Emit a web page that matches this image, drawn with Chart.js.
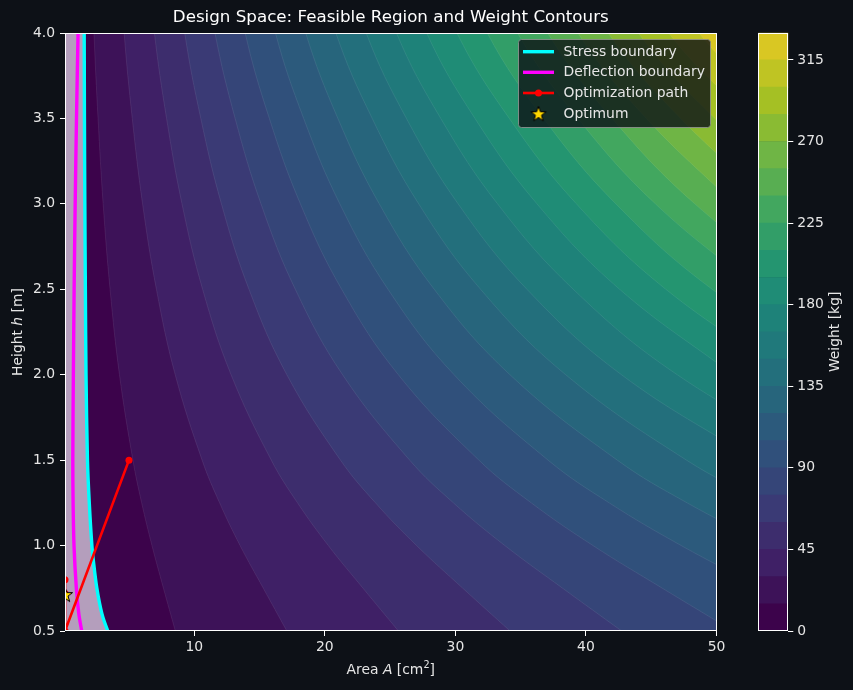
<!DOCTYPE html>
<html>
<head>
<meta charset="utf-8">
<script src="https://cdn.jsdelivr.net/npm/chart.js@4.4.1/dist/chart.umd.min.js"></script>
<style>
  html, body { margin: 0; padding: 0; background: #0d1117; }
  #wrap { position: relative; width: 853px; height: 690px; }
  #main { position: absolute; left: 0; top: 0; }
  #cbar { position: absolute; left: 740px; top: 0; }
</style>
</head>
<body>
<div id="wrap">
  <canvas id="main" width="853" height="690"></canvas>
  <canvas id="cbar" width="113" height="690"></canvas>
</div>
<script>
// values
const areaMin = 0.1
const areaMax = 50
const heightMin = 0.5
const heightMax = 4
const areaTicks = [10, 20, 30, 40, 50]
const heightTicks = [0.5, 1.0, 1.5, 2.0, 2.5, 3.0, 3.5, 4.0]

// weight contour levels [kg] and where each level line sits (area A at each height row)
const heightRows = [5, 4, 3.5, 3, 2.5, 2, 1.5, 1.25, 1, 0.75, 0.5]
const weightLevels = [15, 30, 45, 60, 75, 90, 105, 120, 135, 150, 165, 180, 195, 210, 225, 240, 255, 270, 285, 300, 315]
const contourAreas = [
    [1.87, 2.32, 2.63, 3.02, 3.55, 4.27, 5.30, 5.97, 6.76, 7.64, 8.55],
    [3.75, 4.63, 5.25, 6.04, 7.10, 8.54, 10.60, 11.94, 13.51, 15.29, 17.09],
    [5.62, 6.95, 7.88, 9.06, 10.64, 12.82, 15.90, 17.91, 20.27, 22.93, 25.64],
    [7.50, 9.27, 10.50, 12.08, 14.19, 17.09, 21.20, 23.88, 27.03, 30.57, 34.19],
    [9.37, 11.59, 13.13, 15.11, 17.74, 21.36, 26.50, 29.85, 33.79, 38.22, 42.74],
    [11.24, 13.90, 15.75, 18.13, 21.29, 25.63, 31.80, 35.81, 40.54, 45.86, 51.28],
    [13.12, 16.22, 18.38, 21.15, 24.84, 29.90, 37.10, 41.78, 47.30, 53.50],
    [14.99, 18.54, 21.00, 24.17, 28.38, 34.18, 42.40, 47.75, 54.06],
    [16.87, 20.85, 23.63, 27.19, 31.93, 38.45, 47.70, 53.72],
    [18.74, 23.17, 26.25, 30.21, 35.48, 42.72, 53.00],
    [20.61, 25.49, 28.88, 33.23, 39.03, 46.99, 58.30],
    [22.49, 27.80, 31.50, 36.25, 42.58, 51.26],
    [24.36, 30.12, 34.13, 39.27, 46.12, 55.54],
    [26.24, 32.44, 36.75, 42.29, 49.67, 59.81],
    [28.11, 34.76, 39.38, 45.32, 53.22],
    [29.98, 37.07, 42.00, 48.34, 56.77],
    [31.86, 39.39, 44.63, 51.36],
    [33.73, 41.71, 47.25, 54.38],
    [35.61, 44.02, 49.88, 57.40],
    [37.48, 46.34, 52.50],
    [39.35, 48.66, 55.13]
]
const colorbarBands = [0, 15, 30, 45, 60, 75, 90, 105, 120, 135, 150, 165, 180, 195, 210, 225, 240, 255, 270, 285, 300, 315, 330]
const colorbarTicks = [0, 45, 90, 135, 180, 225, 270, 315]

// constraint boundaries
const stressH = [4.2, 4, 3.5, 3, 2.5, 2, 1.5, 1.25, 1, 0.9, 0.75, 0.6, 0.5, 0.45]
const stressA = [1.56, 1.57, 1.59, 1.62, 1.66, 1.71, 1.82, 1.96, 2.16, 2.29, 2.54, 2.93, 3.38, 3.70]
const deflectionH = [4.2, 4, 3.5, 3, 2.5, 2, 1.5, 1.25, 1, 0.75, 0.6, 0.5, 0.45]
const deflectionA = [1.15, 1.10, 0.98, 0.88, 0.80, 0.74, 0.70, 0.72, 0.79, 0.97, 1.16, 1.38, 1.50]

// optimizer
const pathA = [5.0, 0.1, 0.1, 0.1]
const pathH = [1.5, 0.5, 0.8, 0.72]
const optimumA = [0.1]
const optimumH = [0.71]

// ---- styling helpers ----
const BG = [13, 17, 23]
const TEXT = '#e6e6e6'
const FONT = 'DejaVu Sans'
Chart.defaults.font.family = FONT

const viridis = [[68,1,84],[72,36,117],[65,68,135],[53,95,141],[42,120,142],[33,145,140],[34,168,132],[68,191,112],[122,209,81],[189,223,38],[253,231,37]]
function viridisAt(t) {
    const p = t * 10
    const i = Math.min(9, Math.floor(p))
    const f = p - i
    return viridis[i].map((c, j) => c + (viridis[i + 1][j] - c) * f)
}
const nBands = colorbarBands.length - 1
function bandColor(i) {
    // contourf drawn with alpha 0.85 over the dark face
    const c = viridisAt(i / (nBands - 1))
    return 'rgb(' + c.map((v, j) => Math.round(0.85 * v + 0.15 * BG[j])).join(',') + ')'
}

function makeStar(r) {
    const s = Math.ceil(r * 2 + 4)
    const c = document.createElement('canvas')
    c.width = s
    c.height = s
    const g = c.getContext('2d')
    g.translate(s / 2, s / 2)
    g.beginPath()
    for (let i = 0; i < 10; i++) {
        const rad = i % 2 ? r * 0.4 : r
        const a = -Math.PI / 2 + i * Math.PI / 5
        g.lineTo(rad * Math.cos(a), rad * Math.sin(a))
    }
    g.closePath()
    g.fillStyle = '#ffd700'
    g.fill()
    g.lineWidth = 1
    g.strokeStyle = '#000'
    g.stroke()
    return c
}
const starImg = makeStar(8)

const toPoints = (xs, ys) => xs.map((x, i) => ({ x: x, y: ys[i] }))

// ---- datasets ----
const contourSets = weightLevels.map((lvl, k) => {
    const pts = [{ x: areaMin, y: heightRows[0] }].concat(
        contourAreas[k].map((a, j) => ({ x: a, y: heightRows[j] })))
    return {
        label: 'W < ' + lvl,
        data: pts,
        fill: 'start',
        backgroundColor: bandColor(k),
        borderColor: 'rgba(255,255,255,0.10)',
        borderWidth: 0.8,
        pointRadius: 0,
        tension: 0.4
    }
})

const stressPts = toPoints(stressA, stressH)
const datasets = [
    {
        label: 'Optimum',
        data: toPoints(optimumA, optimumH),
        showLine: false,
        pointStyle: starImg,
        pointRadius: 9,
        clip: 0
    },
    {
        label: 'Optimization path',
        data: toPoints(pathA, pathH),
        borderColor: '#ff0000',
        backgroundColor: '#ff0000',
        borderWidth: 2.6,
        pointRadius: 3.5,
        pointBorderWidth: 0,
        tension: 0,
        clip: 0
    },
    {
        label: 'Stress boundary',
        data: stressPts,
        borderColor: '#00ffff',
        borderWidth: 3.4,
        pointRadius: 0,
        tension: 0.3
    },
    {
        label: 'Deflection boundary',
        data: toPoints(deflectionA, deflectionH),
        borderColor: '#ff00ff',
        borderWidth: 3.4,
        pointRadius: 0,
        tension: 0.3
    },
    {
        label: 'infeasible',
        data: [{ x: areaMin, y: stressH[0] }].concat(stressPts),
        fill: 'start',
        backgroundColor: 'rgb(180,158,188)',
        borderWidth: 0,
        pointRadius: 0,
        tension: 0.3
    }
].concat(contourSets)

const legendItems = [
    { text: 'Stress boundary', color: '#00ffff', kind: 'line' },
    { text: 'Deflection boundary', color: '#ff00ff', kind: 'line' },
    { text: 'Optimization path', color: '#ff0000', kind: 'marker' },
    { text: 'Optimum', kind: 'star' }
]

const mainDecor = {
    id: 'mainDecor',
    beforeDatasetsDraw(chart) {
        const a = chart.chartArea
        const ctx = chart.ctx
        ctx.save()
        ctx.fillStyle = bandColor(nBands - 1)
        ctx.fillRect(a.left, a.top, a.right - a.left, a.bottom - a.top)
        ctx.restore()
    },
    afterDraw(chart) {
        const a = chart.chartArea
        const ctx = chart.ctx
        ctx.save()
        // spines
        ctx.strokeStyle = '#ffffff'
        ctx.lineWidth = 1
        ctx.strokeRect(Math.round(a.left) + 0.5, Math.round(a.top) + 0.5,
            Math.round(a.right - a.left) - 1, Math.round(a.bottom - a.top) - 1)

        // title
        ctx.fillStyle = '#ffffff'
        ctx.textAlign = 'center'
        ctx.textBaseline = 'middle'
        ctx.font = '16.7px "' + FONT + '"'
        ctx.fillText('Design Space: Feasible Region and Weight Contours', (a.left + a.right) / 2, 18)

        // axis labels with italic symbols
        ctx.fillStyle = TEXT
        drawMixed(ctx, [['Area ', ''], ['A', 'italic '], [' [cm', ''], ['2', 'sup'], [']', '']],
            (a.left + a.right) / 2, 670, 0)
        drawMixed(ctx, [['Height ', ''], ['h', 'italic '], [' [m]', '']],
            18, (a.top + a.bottom) / 2, -Math.PI / 2)

        // legend
        const bx = 518.5, by = 39.5, bw = 192, bh = 88
        ctx.beginPath()
        ctx.roundRect(bx, by, bw, bh, 3)
        ctx.fillStyle = 'rgba(13,17,23,0.8)'
        ctx.fill()
        ctx.strokeStyle = 'rgba(150,150,150,0.8)'
        ctx.lineWidth = 1
        ctx.stroke()
        const rows = [51.7, 72.3, 93, 114.3]
        ctx.font = '13.9px "' + FONT + '"'
        ctx.textAlign = 'left'
        ctx.textBaseline = 'middle'
        legendItems.forEach((it, i) => {
            const y = rows[i]
            if (it.kind === 'line' || it.kind === 'marker') {
                ctx.strokeStyle = it.color
                ctx.lineWidth = it.kind === 'line' ? 3.4 : 2.6
                ctx.beginPath()
                ctx.moveTo(523, y)
                ctx.lineTo(554, y)
                ctx.stroke()
                if (it.kind === 'marker') {
                    ctx.fillStyle = it.color
                    ctx.beginPath()
                    ctx.arc(538.5, y, 3.5, 0, Math.PI * 2)
                    ctx.fill()
                }
            } else {
                ctx.drawImage(starImg, 538.5 - starImg.width / 2, y - starImg.height / 2)
            }
            ctx.fillStyle = TEXT
            ctx.fillText(it.text, 563.5, y + 0.5)
        })
        ctx.restore()
    }
}

function drawMixed(ctx, parts, cx, cy, rot) {
    const size = 13.9
    const fontOf = p => p[1] === 'sup' ? (size * 0.7) + 'px "' + FONT + '"'
        : p[1] + size + 'px "' + FONT + '"'
    let total = 0
    parts.forEach(p => { ctx.font = fontOf(p); total += ctx.measureText(p[0]).width })
    ctx.save()
    ctx.translate(cx, cy)
    ctx.rotate(rot)
    ctx.textAlign = 'left'
    ctx.textBaseline = 'middle'
    let x = -total / 2
    parts.forEach(p => {
        ctx.font = fontOf(p)
        ctx.fillText(p[0], x, p[1] === 'sup' ? -5 : 0)
        x += ctx.measureText(p[0]).width
    })
    ctx.restore()
}

const tickFont = { size: 13.9, family: FONT }

new Chart(document.getElementById('main'), {
    type: 'line',
    data: { datasets: datasets },
    options: {
        responsive: false,
        animation: false,
        layout: { padding: { top: 33, right: 136.5, left: 0, bottom: 0 } },
        elements: { line: { capBezierPoints: false } },
        plugins: {
            legend: { display: false },
            tooltip: { enabled: false }
        },
        scales: {
            x: {
                type: 'linear',
                min: areaMin,
                max: areaMax,
                afterBuildTicks: s => { s.ticks = areaTicks.map(v => ({ value: v })) },
                afterFit: s => { s.height = 59 },
                ticks: { color: TEXT, font: tickFont, padding: 3, maxRotation: 0, callback: v => String(v) },
                grid: { drawOnChartArea: false, tickLength: 5, tickColor: '#ffffff' },
                border: { display: false }
            },
            y: {
                type: 'linear',
                min: heightMin,
                max: heightMax,
                afterBuildTicks: s => { s.ticks = heightTicks.map(v => ({ value: v })) },
                afterFit: s => { s.width = 65 },
                ticks: { color: TEXT, font: tickFont, padding: 5, callback: v => v.toFixed(1) },
                grid: { drawOnChartArea: false, tickLength: 5, tickColor: '#ffffff' },
                border: { display: false }
            }
        }
    },
    plugins: [mainDecor]
})

// ---- colorbar ----
const cbarDecor = {
    id: 'cbarDecor',
    afterDraw(chart) {
        const a = chart.chartArea
        const ctx = chart.ctx
        ctx.save()
        ctx.strokeStyle = '#ffffff'
        ctx.lineWidth = 1
        ctx.strokeRect(Math.round(a.left) + 0.5, Math.round(a.top) + 0.5,
            Math.round(a.right - a.left) - 1, Math.round(a.bottom - a.top) - 1)
        ctx.translate(95, (a.top + a.bottom) / 2)
        ctx.rotate(-Math.PI / 2)
        ctx.fillStyle = TEXT
        ctx.textAlign = 'center'
        ctx.textBaseline = 'middle'
        ctx.font = '13.9px "' + FONT + '"'
        ctx.fillText('Weight [kg]', 0, 0)
        ctx.restore()
    }
}

new Chart(document.getElementById('cbar'), {
    type: 'bar',
    data: {
        labels: ['Weight'],
        datasets: colorbarBands.slice(1).map((top, i) => ({
            label: colorbarBands[i] + '-' + top,
            data: [top - colorbarBands[i]],
            backgroundColor: bandColor(i),
            borderWidth: 0,
            barPercentage: 1,
            categoryPercentage: 1
        }))
    },
    options: {
        responsive: false,
        animation: false,
        layout: { padding: { left: 18.3, top: 32.7, bottom: 59, right: 0 } },
        plugins: { legend: { display: false }, tooltip: { enabled: false } },
        scales: {
            x: { display: false, stacked: true },
            y: {
                stacked: true,
                position: 'right',
                min: colorbarBands[0],
                max: colorbarBands[colorbarBands.length - 1],
                afterBuildTicks: s => { s.ticks = colorbarTicks.map(v => ({ value: v })) },
                afterFit: s => { s.width = 64.7 },
                ticks: { color: TEXT, font: tickFont, padding: 4 },
                grid: { drawOnChartArea: false, tickLength: 5, tickColor: '#ffffff' },
                border: { display: false }
            }
        }
    },
    plugins: [cbarDecor]
})
</script>
</body>
</html>
